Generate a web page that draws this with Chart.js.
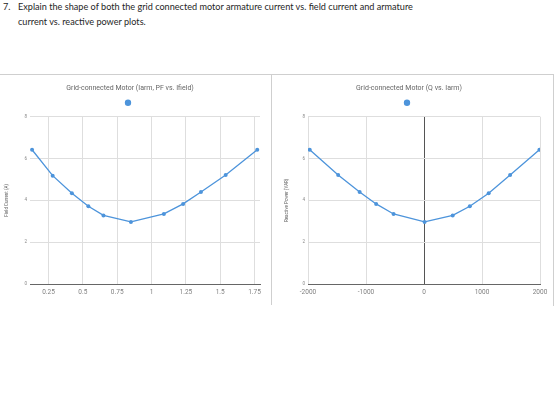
<!DOCTYPE html>
<html>
<head>
<meta charset="utf-8">
<script src="https://cdn.jsdelivr.net/npm/chart.js@4/dist/chart.umd.min.js"></script>
<style>
  body { margin: 0; background: #fff; width: 560px; height: 404px; position: relative; overflow: hidden; }
  .q { position: absolute; font-family: Lato, sans-serif; font-size: 9.15px; color: #262626; white-space: nowrap; line-height: 14px; }
  #frame { position: absolute; left: 0; top: 74px; width: 553px; height: 231px; border-top: 1px solid #cfcfcf; border-right: 1px solid #cfcfcf; }
  #sep { position: absolute; left: 271px; top: 74px; width: 1px; height: 231px; background: #cfcfcf; }
  canvas { position: absolute; }
</style>
</head>
<body>
<div class="q" style="left:3px;top:0px">7.</div>
<div class="q" style="left:18px;top:0px">Explain the shape of both the grid connected motor armature current vs. field current and armature</div>
<div class="q" style="left:18px;top:15px">current vs. reactive power plots.</div>
<div id="frame"></div>
<div id="sep"></div>
<canvas id="chartLeft" width="271" height="230" style="left:0px;top:75px"></canvas>
<canvas id="chartRight" width="275" height="230" style="left:278px;top:75px"></canvas>
<script>
// left chart: Iarm vs Ifield
var ifieldVals = [0.13, 0.28, 0.42, 0.54, 0.65, 0.85, 1.09, 1.23, 1.36, 1.54, 1.77];
var iarmLeft = [6.42, 5.18, 4.34, 3.72, 3.28, 2.97, 3.35, 3.83, 4.40, 5.21, 6.42];
// right chart: Iarm vs Q
var qVals = [-1970, -1480, -1110, -825, -525, 10, 495, 790, 1115, 1485, 1990];
var iarmRight = [6.42, 5.21, 4.40, 3.83, 3.35, 2.97, 3.28, 3.72, 4.34, 5.21, 6.42];

var leftRange = [0.115, 1.79];
var rightRange = [-2000, 2000];
var yRange = [0, 8];

var blue = '#4d94db';

function toPoints(xs, ys) {
  var pts = [];
  for (var i = 0; i < xs.length; i++) {
    pts.push({ x: xs[i], y: ys[i] });
  }
  return pts;
}

function makeChart(id, xs, ys, title, yTitle, xRange, xStep, yTitlePad, padRight) {
  return new Chart(document.getElementById(id), {
    type: 'line',
    data: {
      datasets: [{
        label: '',
        data: toPoints(xs, ys),
        borderColor: blue,
        backgroundColor: blue,
        borderWidth: 1.3,
        pointRadius: 2,
        pointBackgroundColor: blue,
        pointBorderWidth: 0,
        tension: 0
      }]
    },
    options: {
      responsive: false,
      animation: false,
      devicePixelRatio: 1,
      layout: { padding: { left: 0, right: padRight, top: 0, bottom: 0 } },
      plugins: {
        title: {
          display: true,
          text: title,
          color: '#666',
          font: { family: 'Roboto', size: 7, weight: 'normal' },
          padding: { top: 8.8, bottom: 2 }
        },
        legend: {
          display: true,
          labels: {
            usePointStyle: true,
            boxHeight: 4.5,
            padding: 4.5,
            font: { size: 8 }
          }
        },
        tooltip: { enabled: false }
      },
      scales: {
        x: {
          type: 'linear',
          min: xRange[0],
          max: xRange[1],
          afterFit: function (s) { s.height = 21; },
          border: { display: true, color: '#666', width: 1 },
          grid: {
            drawTicks: false,
            color: function (c) { return c.tick && c.tick.value === 0 ? '#555' : '#dedede'; }
          },
          ticks: {
            stepSize: xStep,
            includeBounds: false,
            padding: 4,
            color: '#808080',
            font: { family: 'Roboto', size: 6.5 },
            callback: function (v) { return String(v); }
          }
        },
        y: {
          min: yRange[0],
          max: yRange[1],
          afterFit: function (s) { s.width = 30; },
          border: { display: false },
          grid: { drawTicks: false, color: '#dedede' },
          ticks: {
            stepSize: 2,
            padding: 3,
            color: '#888',
            font: { family: 'Roboto', size: 4.5 }
          },
          title: {
            display: true,
            text: yTitle,
            color: '#666',
            font: { family: 'Roboto', size: 4.5 },
            padding: { top: yTitlePad, bottom: 0 }
          }
        }
      }
    }
  });
}

makeChart('chartLeft', ifieldVals, iarmLeft, 'Grid-connected Motor (Iarm, PF vs. Ifield)', 'Field Current (A)', leftRange, 0.25, 4.5, 11);
makeChart('chartRight', qVals, iarmRight, 'Grid-connected Motor (Q vs. Iarm)', 'Reactive Power (VAR)', rightRange, 1000, 6, 13);
</script>
</body>
</html>
